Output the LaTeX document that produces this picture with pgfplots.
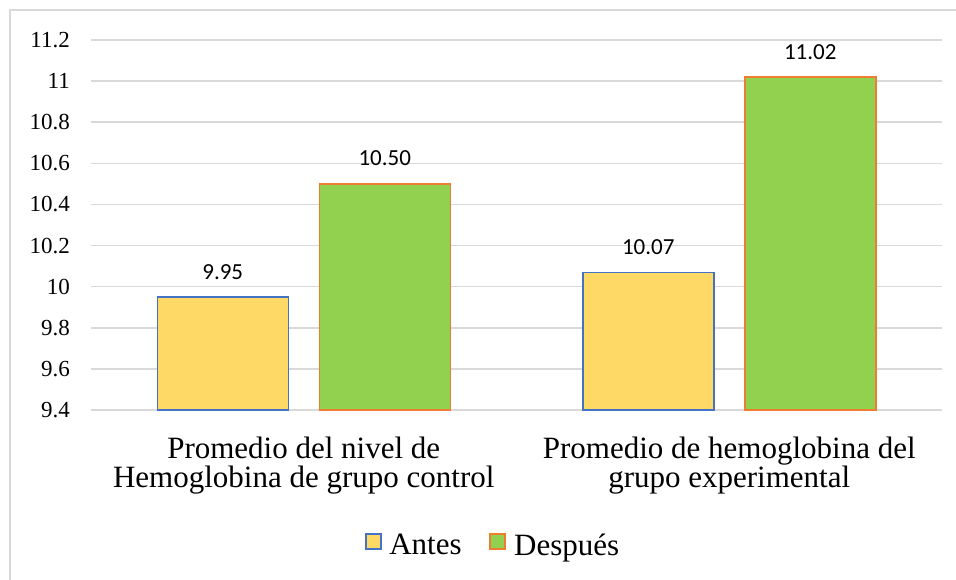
\documentclass[border=0pt]{standalone}
\usepackage{fontspec}
\setmainfont{Liberation Serif}
\newfontfamily\calibri{Carlito}
\newfontfamily\timesf{Liberation Serif}
\usepackage{pgfplots}
\pgfplotsset{compat=1.18}
\definecolor{antesfill}{HTML}{FFD966}
\definecolor{antesdraw}{HTML}{4472C4}
\definecolor{despfill}{HTML}{92D050}
\definecolor{despdraw}{HTML}{ED7D31}
\definecolor{gridc}{HTML}{D9D9D9}
\newcommand{\tl}[1]{\hbox{\timesf\fontsize{23}{27}\selectfont #1}}
\begin{document}
\begin{tikzpicture}[x=1pt,y=1pt]
\useasboundingbox (0,0) rectangle (956,579);
\draw[gridc, line width=1.5pt] (10,-20) rectangle (990,569);
\begin{axis}[
  at={(91pt,169pt)}, anchor=south west,
  scale only axis, width=851pt, height=370pt,
  xmin=-0.5, xmax=1.5, ymin=9.4, ymax=11.2,
  ybar, bar width=131pt,
  xtick={0,1},
  xticklabels={{Promedio del nivel de\\Hemoglobina de grupo control},{Promedio de hemoglobina del\\grupo experimental}},
  xticklabel style={align=center, anchor=north, inner sep=0pt, yshift=-27pt, font=\timesf\fontsize{31}{29}\selectfont},
  ytick={9.4,9.6,9.8,10,10.2,10.4,10.6,10.8,11,11.2},
  yticklabels={\tl{9.4},\tl{9.6},\tl{9.8},\tl{10},\tl{10.2},\tl{10.4},\tl{10.6},\tl{10.8},\tl{11},\tl{11.2}},
  yticklabel style={anchor=east, inner sep=0pt, xshift=-21pt, text=black, font=\timesf\fontsize{23}{27}\selectfont},
  ymajorgrids, grid style={gridc, line width=1.5pt},
  axis line style={draw=none}, major tick length=0pt, tick style={draw=none},
  nodes near coords, point meta=explicit symbolic,
  every node near coord/.append style={font=\calibri\fontsize{23}{27}\selectfont, anchor=south, inner sep=0pt, yshift=17pt, text=black},
  legend columns=2,
  legend style={at={(0.4706,-0.347)}, anchor=center, draw=none, fill=none, font=\timesf\fontsize{31}{36}\selectfont, nodes={inner sep=0pt}, /tikz/every even column/.append style={column sep=27pt}},
  legend image code/.code={\draw[#1, line width=2pt] (1pt,-4pt) rectangle (16pt,11pt); \path (0pt,-5pt) (24pt,24pt);},
]
\addplot[fill=antesfill, draw=antesdraw, line width=1.5pt, bar shift=-81pt] coordinates {(0,9.95)[9.95] (1,10.07)[10.07]};
\addplot[fill=despfill, draw=despdraw, line width=1.5pt, bar shift=81pt] coordinates {(0,10.50)[10.50] (1,11.02)[11.02]};
\legend{Antes, Después}
\end{axis}
\end{tikzpicture}
\end{document}
